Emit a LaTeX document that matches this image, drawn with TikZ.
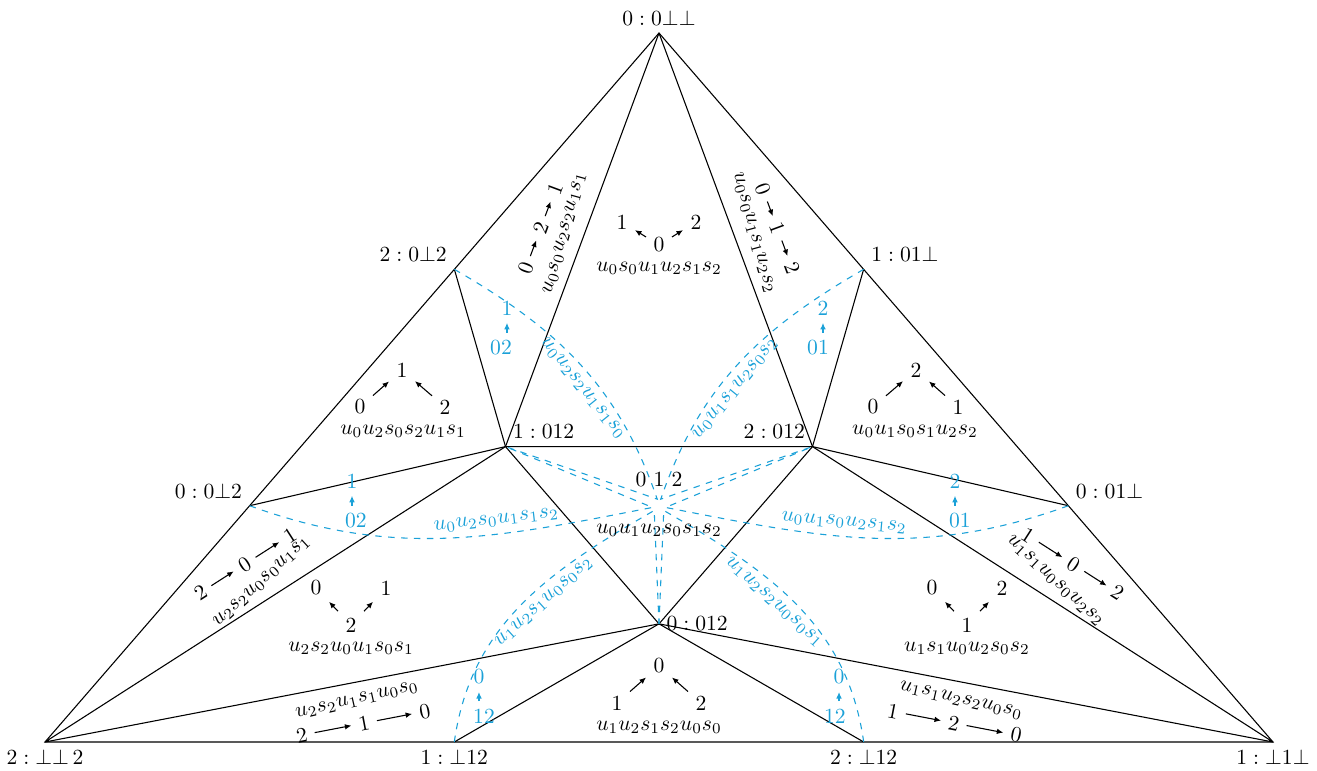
\documentclass[tikz,border=0pt]{standalone}
\usepackage{amsmath, amssymb}
\usepackage{tikz}
\usetikzlibrary{arrows.meta, calc}
\definecolor{lblue}{RGB}{27,161,216}
\tikzset{
  ln/.style  ={line width=0.5pt},
  dsh/.style ={lblue, dashed, line width=0.5pt},
  bwd/.style ={text=lblue},
  ar/.style  ={-{Latex[length=3pt, width=2.6pt]}, line width=0.5pt},
  bar/.style ={-{Latex[length=3pt, width=2.6pt]}, line width=0.5pt, lblue},
}

\begin{document}
\begin{tikzpicture}
  \useasboundingbox (-0.733,-0.472) rectangle (20.717,12.085);
  % outer vertices and centre
  \coordinate (A) at (10,11.547);
  \coordinate (B) at (0,0);
  \coordinate (C) at (20,0);
  \coordinate (G) at (10,3.849);
  % inner triangle
  \coordinate (P0) at ($(G)!-0.25!(A)$);
  \coordinate (P1) at ($(G)!-0.25!(C)$);
  \coordinate (P2) at ($(G)!-0.25!(B)$);
  % thirds of the sides
  \coordinate (E1) at ($(B)!0.6667!(A)$);
  \coordinate (E2) at ($(B)!0.3333!(A)$);
  \coordinate (E3) at ($(C)!0.6667!(A)$);
  \coordinate (E4) at ($(C)!0.3333!(A)$);
  \coordinate (E5) at ($(B)!0.3333!(C)$);
  \coordinate (E6) at ($(B)!0.6667!(C)$);
  % small hexagon round the centre
  \foreach \a/\n in {105/1, 75/3, 195/2, 345/4, 225/5, 315/6}
    \coordinate (h\n) at ($(G)+(\a:0.11)$);

  % black edges
  \draw[ln] (A) -- (B) -- (C) -- cycle;
  \draw[ln] (P0) -- (P1) -- (P2) -- cycle;
  \draw[ln] (A) -- (P1) (A) -- (P2) (B) -- (P1) (B) -- (P0) (C) -- (P2) (C) -- (P0);
  \draw[ln] (E1) -- (P1) (E2) -- (P1) (E3) -- (P2) (E4) -- (P2) (E5) -- (P0) (E6) -- (P0);

  % blue dashed paths through the centre
  \draw[dsh] (E1) to[out=-30, in=109] node[sloped, below, pos=0.57, bwd] {$u_0u_2s_2u_1s_1s_0$} (h1) -- (P1);
  \draw[dsh] (E3) to[out=210, in=71] node[sloped, below, pos=0.57, bwd] {$u_0u_1s_1u_2s_0s_2$} (h3) -- (P2);
  \draw[dsh] (E2) to[out=-20, in=191] node[sloped, above, pos=0.63, bwd] {$u_0u_2s_0u_1s_1s_2$} (h2) -- (P1);
  \draw[dsh] (E4) to[out=200, in=-11] node[sloped, above, pos=0.57, bwd] {$u_0u_1s_0u_2s_1s_2$} (h4) -- (P2);
  \draw[dsh] (E5) to[out=82, in=210] node[sloped, below, pos=0.56, bwd] {$u_1u_2s_1u_0s_0s_2$} (h5) -- (P0);
  \draw[dsh] (E6) to[out=98, in=330] node[sloped, below, pos=0.56, bwd] {$u_1u_2s_2u_0s_0s_1$} (h6) -- (P0);

  % vertex labels
  \node[above] (lA) at (A) {$0:0\bot\bot$};
  \node[below] (lB) at (B) {$2:\bot\bot\,2$};
  \node[below] (lC) at (C) {$1:\bot1\bot$};
  \node[above left] (lE1) at (E1) {$2:0\bot2$};
  \node[above left] (lE2) at (E2) {$0:0\bot2$};
  \node[above right] (lE3) at (E3) {$1:01\bot$};
  \node[above right] (lE4) at (E4) {$0:01\bot$};
  \node[below] (lE5) at (E5) {$1:\bot12$};
  \node[below] (lE6) at (E6) {$2:\bot12$};
  \node[above right] (lP1) at (P1) {$1:012$};
  \node[above left] (lP2) at (P2) {$2:012$};
  \node[right] (lP0) at (P0) {$0:012$};
  \node (lG) at (10,4.267) {0 1 2};
  \node (wG) at (10,3.453) {$u_0u_1u_2s_0s_1s_2$};

  % region: top
  \node (t1) at (9.397,8.469) {1};
  \node (t2) at (10.603,8.469) {2};
  \node (t0) at (10,8.094) {0};
  \node (tw) at (10,7.720) {$u_0s_0u_1u_2s_1s_2$};
  \draw[ar] (t0) -- (t1);
  \draw[ar] (t0) -- (t2);
  % region: left
  \node (l1) at (5.814,6.059) {1};
  \node (l0) at (5.130,5.456) {0};
  \node (l2) at (6.515,5.456) {2};
  \node (lw) at (5.831,5.065) {$u_0u_2s_0s_2u_1s_1$};
  \draw[ar] (l0) -- (l1);
  \draw[ar] (l2) -- (l1);
  % region: right
  \node (r2) at (14.186,6.059) {2};
  \node (r0) at (13.485,5.456) {0};
  \node (r1) at (14.870,5.456) {1};
  \node (rw) at (14.169,5.065) {$u_0u_1s_0s_1u_2s_2$};
  \draw[ar] (r0) -- (r2);
  \draw[ar] (r1) -- (r2);
  % region: lower left
  \node (ll0) at (4.414,2.508) {0};
  \node (ll1) at (5.554,2.508) {1};
  \node (ll2) at (4.984,1.906) {2};
  \node (llw) at (4.984,1.531) {$u_2s_2u_0u_1s_0s_1$};
  \draw[ar] (ll2) -- (ll0);
  \draw[ar] (ll2) -- (ll1);
  % region: lower right
  \node (lr0) at (14.446,2.508) {0};
  \node (lr2) at (15.586,2.508) {2};
  \node (lr1) at (15.016,1.906) {1};
  \node (lrw) at (15.016,1.531) {$u_1s_1u_0u_2s_0s_2$};
  \draw[ar] (lr1) -- (lr0);
  \draw[ar] (lr1) -- (lr2);
  % region: bottom
  \node (b0) at (10,1.238) {0};
  \node (b1) at (9.316,0.635) {1};
  \node (b2) at (10.684,0.635) {2};
  \node (bw) at (10,0.244) {$u_1u_2s_1s_2u_0s_0$};
  \draw[ar] (b1) -- (b0);
  \draw[ar] (b2) -- (b0);

  % blue labels on the short edges
  \node[bwd] (q1a) at (7.524,7.068) {1};
  \node[bwd] (q1b) at (7.427,6.417) {02};
  \node[bwd] (q2a) at (12.671,7.068) {2};
  \node[bwd] (q2b) at (12.590,6.417) {01};
  \node[bwd] (q3a) at (5.000,4.251) {1};
  \node[bwd] (q3b) at (5.065,3.599) {02};
  \node[bwd] (q4a) at (14.821,4.251) {2};
  \node[bwd] (q4b) at (14.902,3.599) {01};
  \node[bwd] (q5a) at (7.068,1.059) {0};
  \node[bwd] (q5b) at (7.150,0.423) {12};
  \node[bwd] (q6a) at (12.932,1.059) {0};
  \node[bwd] (q6b) at (12.866,0.423) {12};
  \foreach \k in {1,...,6}
    \draw[bar] (q\k b.north -| q\k a) -- (q\k a.south);

  % words and chains along the spokes
  \begin{scope}[shift={(P1)}, rotate=69.64, transform shape]
    \node[rotate=5] (w1) at (3.596,0.31) {$u_0s_0u_2s_2u_1s_1$};
    \node (c1a) at (2.838,0.70) {0};
    \node (c1b) at (3.533,0.70) {2};
    \node (c1c) at (4.210,0.70) {1};
    \draw[ar] (c1a) -- (c1b);
    \draw[ar] (c1b) -- (c1c);
  \end{scope}
  \begin{scope}[shift={(A)}, rotate=-69.64, transform shape]
    \node[rotate=-5] (w4) at (3.589,0.31) {$u_0s_0u_1s_1u_2s_2$};
    \node (c4a) at (2.975,0.70) {0};
    \node (c4b) at (3.652,0.70) {1};
    \node (c4c) at (4.347,0.70) {2};
    \draw[ar] (c4a) -- (c4b);
    \draw[ar] (c4b) -- (c4c);
  \end{scope}
  \begin{scope}[shift={(B)}, rotate=32.68, transform shape]
    \node[rotate=10] (w2) at (4.382,0.29) {$u_2s_2u_0s_0u_1s_1$};
    \node (c2a) at (3.444,0.68) {2};
    \node (c2b) at (4.299,0.68) {0};
    \node (c2c) at (5.179,0.68) {1};
    \draw[ar] (c2a) -- (c2b);
    \draw[ar] (c2b) -- (c2c);
  \end{scope}
  \begin{scope}[shift={(P2)}, rotate=-32.68, transform shape]
    \node[rotate=-10] (w5) at (4.507,0.29) {$u_1s_1u_0s_0u_2s_2$};
    \node (c5a) at (3.731,0.68) {1};
    \node (c5b) at (4.611,0.68) {0};
    \node (c5c) at (5.466,0.68) {2};
    \draw[ar] (c5a) -- (c5b);
    \draw[ar] (c5b) -- (c5c);
  \end{scope}
  \begin{scope}[shift={(B)}, rotate=10.89, transform shape]
    \node[rotate=2] (w3) at (5.119,-0.29) {$u_2s_2u_1s_1u_0s_0$};
    \node (c3a) at (4.129,-0.68) {2};
    \node (c3b) at (5.163,-0.68) {1};
    \node (c3c) at (6.170,-0.68) {0};
    \draw[ar] (c3a) -- (c3b);
    \draw[ar] (c3b) -- (c3c);
  \end{scope}
  \begin{scope}[shift={(P0)}, rotate=-10.89, transform shape]
    \node[rotate=-2] (w6) at (5.064,-0.29) {$u_1s_1u_2s_2u_0s_0$};
    \node (c6a) at (4.013,-0.68) {1};
    \node (c6b) at (5.020,-0.68) {2};
    \node (c6c) at (6.054,-0.68) {0};
    \draw[ar] (c6a) -- (c6b);
    \draw[ar] (c6b) -- (c6c);
  \end{scope}
\end{tikzpicture}
\end{document}
